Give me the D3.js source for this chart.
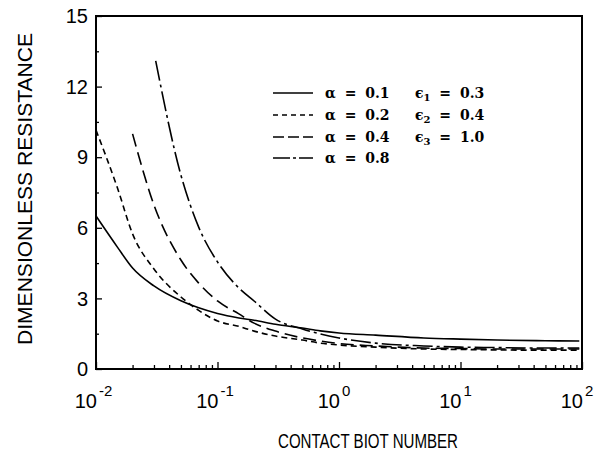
<!DOCTYPE html>
<html lang="en">
<head>
    <meta charset="utf-8">
    <title>Dimensionless resistance vs contact Biot number</title>
    <script src="https://d3js.org/d3.v7.min.js"></script>
    <style>
        html, body {
            margin: 0;
            padding: 0;
            background: white;
        }
        text {
            font-family: "Liberation Sans", Arial, sans-serif;
            fill: black;
        }
        .legend text {
            font-family: "DejaVu Serif", "Liberation Serif", serif;
            font-size: 14px;
            font-weight: bold;
            word-spacing: 4px;
        }
        path.curve {
            fill: none;
            stroke: black;
            stroke-width: 1.6px;
        }
        .frame {
            fill: none;
            stroke: black;
            stroke-width: 2px;
        }
        .tick line {
            stroke: black;
            stroke-width: 1.3px;
        }
    </style>
</head>
<body>
<script type="text/javascript">

    var w = 602;
    var h = 452;

    // plot box
    var boxLeft = 96, boxRight = 582, boxTop = 16, boxBottom = 369;

    // Biot numbers at which the curves were read
    var biot = [0.01, 0.015, 0.02, 0.03, 0.05, 0.07, 0.1, 0.15, 0.2, 0.3, 0.5, 0.7, 1, 2, 5, 10, 20, 50, 95];

    // dimensionless resistance for each alpha (null = curve not drawn there)
    var alpha01 = [6.5, 5.18, 4.29, 3.53, 2.9, 2.6, 2.36, 2.17, 2.07, 1.9, 1.74, 1.62, 1.53, 1.44, 1.32, 1.27, 1.23, 1.2, 1.19];
    var alpha02 = [10.15, 7.7, 5.74, 4.25, 3.06, 2.49, 2.04, 1.81, 1.61, 1.40, 1.23, 1.10, 1.02, 0.93, 0.85, 0.83, 0.81, 0.80, 0.80];
    var alpha04 = [null, null, 9.99, 6.97, 4.63, 3.65, 2.89, 2.34, 1.95, 1.61, 1.32, 1.19, 1.08, 0.98, 0.89, 0.87, 0.85, 0.85, 0.85];
    var alpha08 = [null, null, null, 13.09, 8.24, 6.03, 4.55, 3.44, 2.89, 2.12, 1.70, 1.49, 1.32, 1.10, 0.98, 0.93, 0.91, 0.89, 0.89];
    var alpha08Start = 0.031;   // first point of the alpha = 0.8 curve

    var seriesNames = ["\u03b1 = 0.1", "\u03b1 = 0.2", "\u03b1 = 0.4", "\u03b1 = 0.8"];
    var epsLabels = [["1", "0.3"], ["2", "0.4"], ["3", "1.0"]];

    var yTicks = [0, 3, 6, 9, 12, 15];
    var xTicks = [0.01, 0.1, 1, 10, 100];
    var xTickExp = ["-2", "-1", "0", "1", "2"];

    var dashes = ["none", "6,4", "13,6", "20,4,3,4"];
    var legendDashes = ["none", "5,4", "11,4", "17,3,3,3"];

    var xScale = d3.scaleLog().domain([0.01, 100]).range([boxLeft, boxRight]);
    var yScale = d3.scaleLinear().domain([0, 15]).range([boxBottom, boxTop]);

    var svg = d3.select("body")
        .append("svg")
        .attr("width", w)
        .attr("height", h);

    // frame
    svg.append("rect")
        .attr("class", "frame")
        .attr("x", boxLeft)
        .attr("y", boxTop)
        .attr("width", boxRight - boxLeft)
        .attr("height", boxBottom - boxTop);

    // y axis ticks (inward)
    var yMinor = d3.range(1.5, 15, 3);
    svg.append("g")
        .attr("transform", "translate(" + boxLeft + ",0)")
        .call(d3.axisRight(yScale).tickValues(yTicks).tickSize(6).tickFormat(""))
        .call(function(g) { g.select(".domain").remove(); });
    svg.append("g")
        .attr("transform", "translate(" + boxLeft + ",0)")
        .call(d3.axisRight(yScale).tickValues(yMinor).tickSize(3).tickFormat(""))
        .call(function(g) { g.select(".domain").remove(); });

    svg.selectAll(".ylab")
        .data(yTicks)
        .enter()
        .append("text")
        .attr("class", "ylab")
        .attr("x", 88)
        .attr("y", function(d) { return yScale(d); })
        .attr("dy", "0.36em")
        .attr("text-anchor", "end")
        .style("font-size", "20px")
        .text(function(d) { return d; });

    // x axis ticks (inward), log minors
    var xMinor = [];
    for (var e = -2; e < 2; e++) {
        for (var m = 2; m <= 9; m++) xMinor.push(m * Math.pow(10, e));
    }
    svg.append("g")
        .attr("transform", "translate(0," + boxBottom + ")")
        .call(d3.axisTop(xScale).tickValues(xTicks).tickSize(7).tickFormat(""))
        .call(function(g) { g.select(".domain").remove(); });
    svg.append("g")
        .attr("transform", "translate(0," + boxBottom + ")")
        .call(d3.axisTop(xScale).tickValues(xMinor).tickSize(4).tickFormat(""))
        .call(function(g) { g.select(".domain").remove(); });

    var xlab = svg.selectAll(".xlab")
        .data(xTicks)
        .enter()
        .append("g")
        .attr("class", "xlab")
        .attr("transform", function(d) { return "translate(" + xScale(d) + ",408)"; });
    xlab.append("text")
        .attr("x", 1)
        .attr("text-anchor", "end")
        .style("font-size", "20px")
        .text("10");
    xlab.append("text")
        .attr("x", 3)
        .attr("y", -12)
        .attr("text-anchor", "start")
        .style("font-size", "15px")
        .text(function(d, i) { return xTickExp[i]; });

    // axis titles
    svg.append("text")
        .attr("x", 278)
        .attr("y", 448)
        .attr("textLength", 180)
        .attr("lengthAdjust", "spacingAndGlyphs")
        .style("font-size", "20px")
        .text("CONTACT BIOT NUMBER");

    svg.append("text")
        .attr("transform", "translate(32,345) rotate(-90)")
        .attr("textLength", 312)
        .attr("lengthAdjust", "spacingAndGlyphs")
        .style("font-size", "20px")
        .text("DIMENSIONLESS RESISTANCE");

    // curves
    var line = d3.line()
        .x(function(d) { return xScale(d[0]); })
        .y(function(d) { return yScale(d[1]); })
        .curve(d3.curveMonotoneX);

    var allSeries = [alpha01, alpha02, alpha04, alpha08];
    allSeries.forEach(function(vals, k) {
        var pts = biot.map(function(b, i) {
            var x = b;
            if (k === 3 && i === 3) x = alpha08Start;
            return [x, vals[i]];
        }).filter(function(d) { return d[1] !== null; });
        svg.append("path")
            .datum(pts)
            .attr("class", "curve")
            .attr("d", line)
            .style("stroke-dasharray", dashes[k]);
    });

    // legend
    var legend = svg.append("g").attr("class", "legend");
    var rowY = [98, 120, 142, 163];
    seriesNames.forEach(function(name, k) {
        legend.append("line")
            .attr("x1", 273)
            .attr("x2", 313)
            .attr("y1", rowY[k] - 5)
            .attr("y2", rowY[k] - 5)
            .style("stroke", "black")
            .style("stroke-width", 1.5)
            .style("stroke-dasharray", legendDashes[k]);
        legend.append("text")
            .attr("x", 325)
            .attr("y", rowY[k])
            .text(name);
    });
    epsLabels.forEach(function(d, k) {
        var t = legend.append("text")
            .attr("x", 415)
            .attr("y", rowY[k]);
        t.append("tspan").text("\u03f5");
        t.append("tspan").attr("dy", 3).style("font-size", "10px").text(d[0]);
        t.append("tspan").attr("dy", -3).text(" = " + d[1]);
    });

</script>
</body>
</html>
